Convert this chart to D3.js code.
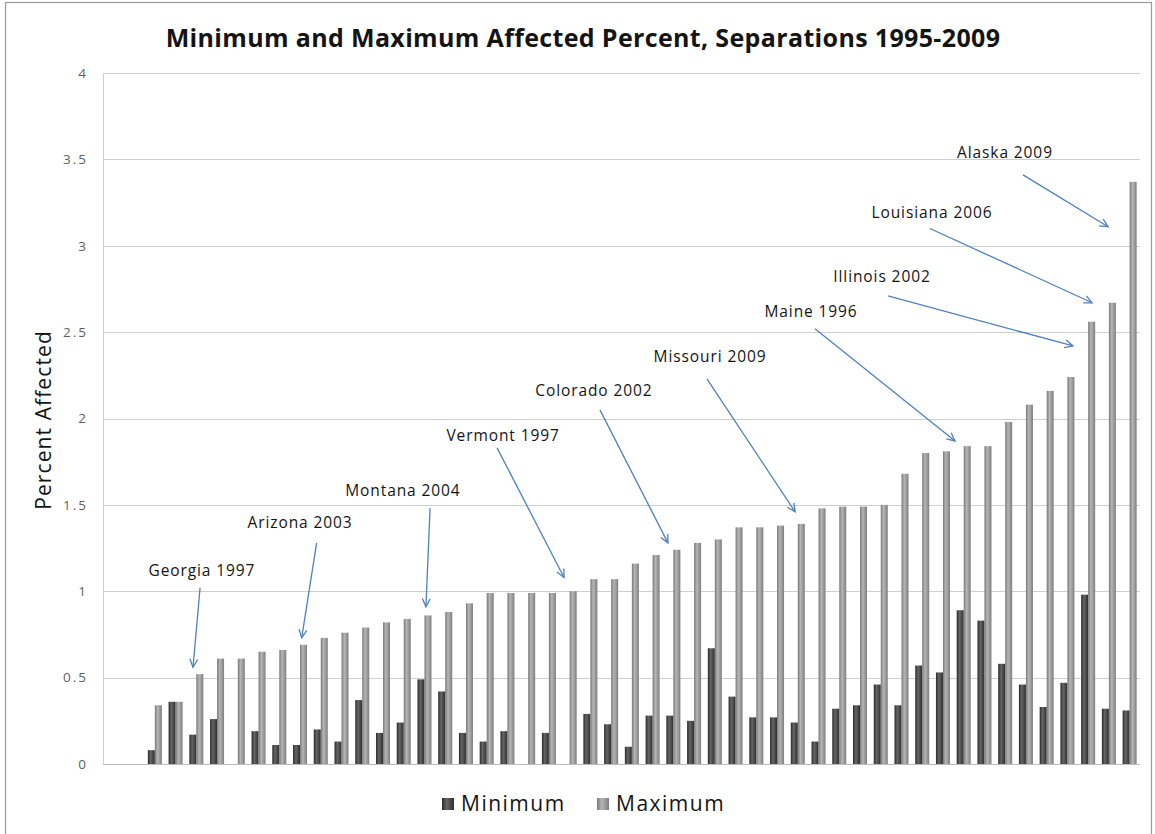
<!DOCTYPE html>
<html>
<head>
<meta charset="utf-8">
<script src="https://cdn.jsdelivr.net/npm/d3@7"></script>
<style>
  html, body { margin: 0; padding: 0; background: #fff; }
  svg { display: block; }
  text { font-family: "Open Sans", "Liberation Sans", sans-serif; }
</style>
</head>
<body>
<svg id="chart" width="1155" height="834"></svg>
<script>
// Separations ranked by maximum affected percent (one slot per state).
const ranks = d3.range(1, 51).map(String);

const minimumPct = [0, 0, 0.08, 0.36, 0.17, 0.26, 0, 0.19, 0.11, 0.11,
  0.20, 0.13, 0.37, 0.18, 0.24, 0.49, 0.42, 0.18, 0.13, 0.19,
  0, 0.18, 0, 0.29, 0.23, 0.10, 0.28, 0.28, 0.25, 0.67,
  0.39, 0.27, 0.27, 0.24, 0.13, 0.32, 0.34, 0.46, 0.34, 0.57,
  0.53, 0.89, 0.83, 0.58, 0.46, 0.33, 0.47, 0.98, 0.32, 0.31];

const maximumPct = [0, 0, 0.34, 0.36, 0.52, 0.61, 0.61, 0.65, 0.66, 0.69,
  0.73, 0.76, 0.79, 0.82, 0.84, 0.86, 0.88, 0.93, 0.99, 0.99,
  0.99, 0.99, 1.00, 1.07, 1.07, 1.16, 1.21, 1.24, 1.28, 1.30,
  1.37, 1.37, 1.38, 1.39, 1.48, 1.49, 1.49, 1.50, 1.68, 1.80,
  1.81, 1.84, 1.84, 1.98, 2.08, 2.16, 2.24, 2.56, 2.67, 3.37];

const seriesNames = ["Minimum", "Maximum"];
const yTicks = [0, 0.5, 1, 1.5, 2, 2.5, 3, 3.5, 4];

// Callouts: label, text anchor and arrow ends in [slot position, percent].
const calloutLabels = ["Georgia 1997", "Arizona 2003", "Montana 2004", "Vermont 1997",
  "Colorado 2002", "Missouri 2009", "Maine 1996", "Illinois 2002", "Louisiana 2006", "Alaska 2009"];
const calloutText = [[4.27, 1.12], [9.00, 1.40], [13.96, 1.58], [18.79, 1.90], [23.17, 2.16],
  [28.77, 2.36], [33.64, 2.62], [37.06, 2.82], [39.47, 3.19], [42.99, 3.54]];
const calloutFrom = [[4.18, 1.02], [9.80, 1.28], [15.27, 1.48], [18.50, 1.83], [23.46, 2.05],
  [28.62, 2.23], [33.83, 2.52], [37.35, 2.71], [39.37, 3.10], [43.86, 3.41]];
const calloutTo = [[3.84, 0.56], [9.08, 0.73], [15.07, 0.91], [21.73, 1.08], [26.74, 1.28],
  [32.87, 1.46], [40.58, 1.87], [46.27, 2.42], [47.19, 2.67], [47.96, 3.11]];

const svg = d3.select("#chart");
const plot = { left: 103, right: 1140, top: 73, bottom: 764 };

// outer frame
svg.append("rect")
  .attr("x", 5.5).attr("y", 2.5)
  .attr("width", 1146).attr("height", 840)
  .attr("fill", "#fff").attr("stroke", "#9a9a9a").attr("stroke-width", 1.2);

const defs = svg.append("defs");
function cylinder(id, stops) {
  const g = defs.append("linearGradient").attr("id", id)
    .attr("x1", "0%").attr("x2", "100%").attr("y1", "0%").attr("y2", "0%");
  stops.forEach(([o, c]) => g.append("stop").attr("offset", o).attr("stop-color", c));
}
cylinder("gradMin", [["0%", "#2a2a2a"], ["40%", "#666666"], ["100%", "#2e2e2e"]]);
cylinder("gradMax", [["0%", "#787878"], ["40%", "#b6b6b6"], ["100%", "#7e7e7e"]]);
const fills = { Minimum: "url(#gradMin)", Maximum: "url(#gradMax)" };

const x = d3.scaleBand().domain(ranks).range([plot.left, plot.right]).paddingInner(0).paddingOuter(0);
const xSub = d3.scaleBand().domain(seriesNames).range([0, x.bandwidth()]).paddingInner(0).paddingOuter(0.48);
const y = d3.scaleLinear().domain([0, 4]).range([plot.bottom, plot.top]);
// continuous slot position -> pixel (slot centre at integer positions)
const slotX = p => plot.left + x.step() * (p + 0.5);

// gridlines
svg.append("g").selectAll("line").data(yTicks).join("line")
  .attr("x1", plot.left).attr("x2", plot.right)
  .attr("y1", d => Math.round(y(d)) + 0.5).attr("y2", d => Math.round(y(d)) + 0.5)
  .attr("stroke", d => d === 0 ? "#bdbdbd" : "#cfcfcf").attr("stroke-width", 1);

// value axis line
svg.append("line")
  .attr("x1", plot.left + 0.5).attr("x2", plot.left + 0.5)
  .attr("y1", y(4)).attr("y2", y(0))
  .attr("stroke", "#cfcfcf");

// tick labels
const yAxis = d3.axisLeft(y).tickValues(yTicks).tickFormat(d3.format("")).tickSize(0).tickPadding(15);
const ga = svg.append("g").attr("transform", `translate(${plot.left},0)`).call(yAxis);
ga.select(".domain").remove();
ga.selectAll("text")
  .attr("font-family", "'Open Sans', sans-serif")
  .attr("font-size", 13.5).attr("fill", "#5f5f5f").attr("letter-spacing", 2);

// bars
const rows = ranks.map((r, i) => ({ rank: r, Minimum: minimumPct[i], Maximum: maximumPct[i] }));
svg.append("g").selectAll("g").data(rows).join("g")
  .attr("transform", d => `translate(${x(d.rank)},0)`)
  .selectAll("rect")
  .data(d => seriesNames.map(k => ({ key: k, value: d[k] })).filter(e => e.value > 0))
  .join("rect")
  .attr("x", d => xSub(d.key))
  .attr("width", xSub.bandwidth())
  .attr("y", d => y(d.value))
  .attr("height", d => y(0) - y(d.value))
  .attr("fill", d => fills[d.key]);

// title
svg.append("text")
  .attr("x", 583).attr("y", 47)
  .attr("text-anchor", "middle")
  .attr("font-size", 25).attr("font-weight", 700).attr("fill", "#141414")
  .attr("letter-spacing", 0.35)
  .text("Minimum and Maximum Affected Percent, Separations 1995-2009");

// axis title
svg.append("text")
  .attr("transform", "translate(51,420) rotate(-90)")
  .attr("text-anchor", "middle")
  .attr("font-size", 21).attr("fill", "#141414").attr("letter-spacing", 1.1)
  .text("Percent Affected");

// callout arrows
const arrowColor = "#4f81bd";
const callouts = calloutLabels.map((label, i) => ({
  label, t: calloutText[i], a: calloutFrom[i], b: calloutTo[i]
}));
const cg = svg.append("g");
callouts.forEach(c => {
  const x1 = slotX(c.a[0]), y1 = y(c.a[1]);
  const x2 = slotX(c.b[0]), y2 = y(c.b[1]);
  cg.append("line")
    .attr("x1", x1).attr("y1", y1).attr("x2", x2).attr("y2", y2)
    .attr("stroke", arrowColor).attr("stroke-width", 1.3);
  const ang = Math.atan2(y2 - y1, x2 - x1);
  const len = 9, spread = 0.45;
  const pA = [x2 - len * Math.cos(ang - spread), y2 - len * Math.sin(ang - spread)];
  const pB = [x2 - len * Math.cos(ang + spread), y2 - len * Math.sin(ang + spread)];
  cg.append("path")
    .attr("d", `M${pA[0]},${pA[1]}L${x2},${y2}L${pB[0]},${pB[1]}`)
    .attr("fill", "none").attr("stroke", arrowColor).attr("stroke-width", 1.3);
  cg.append("text")
    .attr("x", slotX(c.t[0])).attr("y", y(c.t[1]))
    .attr("dy", "0.35em")
    .attr("text-anchor", "middle")
    .attr("font-size", 15.5).attr("fill", "#141414").attr("letter-spacing", 0.9)
    .text(c.label);
});

// legend
const legend = svg.append("g").attr("transform", "translate(442,798)");
const legendItems = [
  { name: seriesNames[0], dx: 0 },
  { name: seriesNames[1], dx: 155 }
];
legendItems.forEach(it => {
  legend.append("rect")
    .attr("x", it.dx).attr("y", 0).attr("width", 12).attr("height", 12)
    .attr("fill", fills[it.name]);
  legend.append("text")
    .attr("x", it.dx + 19).attr("y", 13)
    .attr("font-size", 21).attr("fill", "#141414").attr("letter-spacing", 1.5)
    .text(it.name);
});
</script>
</body>
</html>
